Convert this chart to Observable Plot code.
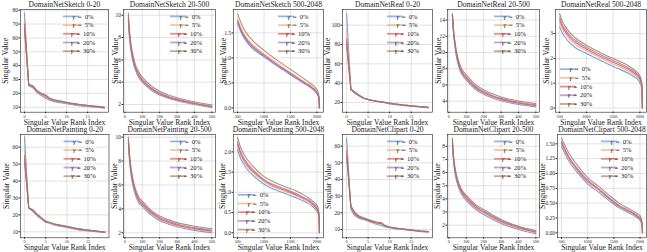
<!DOCTYPE html>
<html><head><meta charset="utf-8">
<script src="https://cdn.jsdelivr.net/npm/d3@7"></script>
<script src="https://cdn.jsdelivr.net/npm/@observablehq/plot@0.6"></script>
<style>
html,body{margin:0;padding:0;background:#fff;}
#root{position:relative;width:647px;height:252px;overflow:hidden;background:#fff;}
#root svg{position:absolute;overflow:visible;}
</style></head><body><div id="root"></div>
<script>
const gammas = ["γ = 0%", "γ = 5%", "γ = 10%", "γ = 20%", "γ = 30%"];
const colors = ["#5b8fd8", "#f5a66e", "#e0524c", "#9a74bd", "#a57a52"];

const titles = ["DomainNetSketch 0-20", "DomainNetSketch 20-500", "DomainNetSketch 500-2048",
  "DomainNetReal 0-20", "DomainNetReal 20-500", "DomainNetReal 500-2048",
  "DomainNetPainting 0-20", "DomainNetPainting 20-500", "DomainNetPainting 500-2048",
  "DomainNetClipart 0-20", "DomainNetClipart 20-500", "DomainNetClipart 500-2048"];

const rank020 = [0,1,2,3,4,5,6,7,8,9,10,11,12,13,14,15,16,17,18,19];
const rank20500 = [20,25,30,40,50,60,80,100,150,200,250,300,400,500];
const rank5002048 = [500,550,600,700,800,1000,1200,1400,1600,1800,1900,1950,2000,2020,2035,2042,2047];

const ticks020 = [0,5,10,15];
const ticks20500 = [0,100,200,300,400,500];
const ticks5002048 = [500,1000,1500,2000];

// ---- DomainNetSketch ----
const sketch020 = [
  [78,25.5,24,20.5,18.5,16.5,15,14,13.5,13,12.5,12,11.5,11,10.8,10.5,10.2,10,9.7,9.3],
  [72,26,24.5,21,19,17.5,15.5,14.5,14,13.5,13,12.5,12,11.5,11.2,10.9,10.6,10.3,10,9.6],
  [70,26,25,21.5,19.5,18,16,15,14.3,13.8,13.2,12.7,12.2,11.8,11.4,11,10.7,10.4,10.1,9.7],
  [67,26.5,25,21.5,19.5,18.5,16,15,14.5,14,13.4,12.9,12.4,12,11.6,11.2,10.9,10.6,10.3,9.9],
  [65,26.5,25.5,22,20,19,16.5,15.5,14.8,14.2,13.6,13,12.6,12.1,11.7,11.3,11,10.7,10.4,10]
];
const sketch20500 = [
  [9.4,8.2,7.4,6.3,5.6,5.1,4.4,4.0,3.3,2.85,2.55,2.33,2.0,1.72],
  [9.6,8.4,7.6,6.45,5.75,5.2,4.5,4.1,3.38,2.92,2.62,2.39,2.05,1.77],
  [9.7,8.5,7.7,6.55,5.85,5.3,4.6,4.15,3.43,2.97,2.66,2.43,2.09,1.8],
  [9.9,8.65,7.85,6.7,5.95,5.4,4.7,4.25,3.5,3.03,2.72,2.48,2.13,1.84],
  [10.2,8.9,8.1,6.95,6.2,5.6,4.9,4.45,3.68,3.18,2.85,2.6,2.24,1.94]
];
const sketch5002048 = [
  [1.69,1.55,1.44,1.28,1.17,1.02,0.87,0.73,0.59,0.46,0.39,0.35,0.28,0.25,0.2,0.13,0],
  [1.78,1.64,1.53,1.36,1.25,1.08,0.93,0.78,0.64,0.5,0.43,0.38,0.31,0.28,0.22,0.14,0],
  [1.74,1.6,1.49,1.33,1.22,1.06,0.9,0.76,0.62,0.48,0.41,0.37,0.3,0.27,0.21,0.14,0],
  [1.72,1.58,1.47,1.31,1.2,1.04,0.89,0.75,0.61,0.47,0.4,0.36,0.29,0.26,0.21,0.13,0],
  [1.88,1.74,1.62,1.45,1.33,1.15,0.99,0.84,0.7,0.55,0.47,0.43,0.36,0.32,0.26,0.17,0]
];
// ---- DomainNetReal ----
const real020 = [
  [112,34,31,27.5,25,23,22,21,20.5,19.5,18.5,18,17.5,17,16.5,16,15.8,15.5,15,14.5],
  [96,34,30,27,24.5,23,22,21,20.5,19.8,19,18.3,17.8,17.2,16.8,16.3,16,15.6,15.2,14.8],
  [86,33.5,30,27,24.5,23,22,21.2,20.7,20,19.2,18.5,18,17.4,17,16.5,16.1,15.7,15.3,14.9],
  [82,33.5,29.5,27,24.5,23.2,22.2,21.4,20.8,20.1,19.3,18.6,18.1,17.5,17.1,16.6,16.2,15.8,15.4,15],
  [78,33,29.5,26.5,24.5,23.3,22.3,21.5,21,20.2,19.4,18.7,18.2,17.6,17.2,16.7,16.3,15.9,15.5,15.1]
];
const real20500 = [
  [14.5,12.8,11.6,9.9,8.8,8.0,7.1,6.6,5.5,4.85,4.4,4.05,3.6,3.3],
  [14.6,12.9,11.8,10.1,9.0,8.2,7.25,6.75,5.65,4.98,4.52,4.17,3.7,3.4],
  [14.7,13.0,11.9,10.2,9.1,8.3,7.35,6.85,5.75,5.07,4.6,4.25,3.77,3.46],
  [14.7,13.1,12.0,10.3,9.25,8.45,7.5,7.0,5.87,5.18,4.7,4.34,3.86,3.55],
  [14.8,13.3,12.2,10.6,9.5,8.7,7.75,7.25,6.1,5.4,4.9,4.52,4.02,3.7]
];
const real5002048 = [
  [3.27,3.02,2.85,2.6,2.42,2.2,1.98,1.77,1.58,1.38,1.25,1.17,1.02,0.92,0.78,0.55,0],
  [3.45,3.18,3.0,2.74,2.55,2.31,2.08,1.87,1.68,1.47,1.34,1.26,1.11,1.01,0.85,0.6,0],
  [3.55,3.28,3.1,2.83,2.64,2.38,2.15,1.94,1.75,1.54,1.4,1.32,1.17,1.06,0.89,0.64,0],
  [3.65,3.37,3.18,2.91,2.72,2.45,2.22,2.01,1.82,1.6,1.46,1.37,1.22,1.11,0.94,0.67,0],
  [3.8,3.5,3.3,3.02,2.82,2.53,2.3,2.09,1.9,1.68,1.53,1.44,1.29,1.18,1.0,0.72,0]
];
// ---- DomainNetPainting ----
const painting020 = [
  [66,24,22,19.5,17.5,15.5,15,14,13.5,13,12.5,12,11.5,11,10.8,10.5,10.2,10,9.7,9.4],
  [58,24,22.5,19.5,17.5,16,15.2,14.3,13.8,13.3,12.8,12.3,11.9,11.5,11.1,10.8,10.5,10.2,9.9,9.6],
  [55,24,22.5,20,18,16,15.3,14.5,14,13.5,13,12.5,12,11.6,11.2,10.9,10.6,10.3,10,9.7],
  [53,24,23,20,18,16.2,15.4,14.6,14.1,13.6,13.1,12.6,12.1,11.7,11.3,11,10.7,10.4,10.1,9.8],
  [51,24,23,20.5,18.2,16.3,15.5,14.7,14.2,13.7,13.2,12.7,12.2,11.8,11.4,11.1,10.8,10.5,10.2,9.9]
];
const painting20500 = [
  [9.5,8.3,7.5,6.4,5.7,5.15,4.5,4.2,3.5,3.0,2.72,2.5,2.2,2.0],
  [9.6,8.45,7.65,6.55,5.85,5.3,4.62,4.3,3.6,3.1,2.8,2.58,2.28,2.08],
  [9.7,8.55,7.75,6.65,5.95,5.4,4.72,4.4,3.68,3.18,2.88,2.65,2.35,2.15],
  [9.8,8.7,7.9,6.8,6.08,5.52,4.85,4.5,3.78,3.28,2.97,2.74,2.43,2.23],
  [10.0,8.9,8.1,7.0,6.25,5.7,5.0,4.65,3.9,3.4,3.1,2.85,2.55,2.35]
];
const painting5002048 = [
  [2.06,1.86,1.73,1.54,1.41,1.2,1.07,0.97,0.87,0.75,0.67,0.61,0.53,0.48,0.41,0.3,0],
  [2.15,1.94,1.8,1.61,1.48,1.26,1.12,1.02,0.92,0.79,0.71,0.65,0.57,0.52,0.44,0.32,0],
  [2.2,1.99,1.85,1.65,1.51,1.29,1.15,1.05,0.94,0.82,0.73,0.67,0.59,0.54,0.46,0.33,0],
  [2.25,2.03,1.89,1.69,1.55,1.32,1.18,1.08,0.97,0.84,0.76,0.7,0.62,0.56,0.48,0.35,0],
  [2.36,2.14,1.99,1.78,1.63,1.39,1.25,1.14,1.04,0.9,0.81,0.75,0.68,0.62,0.53,0.38,0]
];
// ---- DomainNetClipart ----
const clipart020 = [
  [65,22,18,16.5,16,15,14,13,12.5,11.5,11,10.5,10.2,10,9.7,9.4,9.1,8.8,8.5,8.3],
  [60,23,19,17,16.5,15.5,14.5,13.5,13.5,12,11.2,10.8,10.4,10.1,9.8,9.5,9.2,8.9,8.7,8.5],
  [57,23,19,17,16.5,15.5,14.5,14,13.5,12,11.3,10.9,10.5,10.2,9.9,9.6,9.3,9,8.8,8.6],
  [55,24,19.5,17.5,16.5,16,15,14,14,12.2,11.4,11,10.6,10.3,10,9.7,9.4,9.1,8.9,8.7],
  [53,24,20,18,17,16,15,14.5,14,12.3,11.5,11.1,10.7,10.4,10.1,9.8,9.5,9.2,9,8.8]
];
const clipart20500 = [
  [8.1,7.1,6.4,5.6,5.1,4.7,4.2,3.87,3.25,2.81,2.45,2.13,1.67,1.34],
  [8.3,7.28,6.58,5.75,5.23,4.82,4.32,3.98,3.35,2.92,2.55,2.22,1.74,1.41],
  [8.35,7.33,6.63,5.8,5.28,4.88,4.38,4.05,3.42,2.99,2.62,2.28,1.8,1.47],
  [8.45,7.43,6.73,5.9,5.37,4.97,4.47,4.15,3.5,3.08,2.7,2.35,1.86,1.53],
  [8.63,7.6,6.9,6.05,5.5,5.1,4.58,4.28,3.6,3.19,2.8,2.43,1.92,1.6]
];
const clipart5002048 = [
  [1.46,1.36,1.27,1.13,1.02,0.82,0.69,0.55,0.42,0.33,0.28,0.25,0.21,0.18,0.14,0.09,0],
  [1.5,1.39,1.3,1.16,1.05,0.85,0.72,0.58,0.44,0.35,0.3,0.27,0.23,0.2,0.16,0.1,0],
  [1.52,1.42,1.33,1.19,1.07,0.87,0.74,0.59,0.45,0.36,0.31,0.28,0.24,0.21,0.16,0.1,0],
  [1.54,1.44,1.35,1.2,1.09,0.89,0.75,0.6,0.46,0.37,0.32,0.29,0.25,0.22,0.17,0.11,0],
  [1.6,1.5,1.41,1.26,1.14,0.93,0.79,0.64,0.5,0.4,0.35,0.32,0.29,0.25,0.2,0.12,0]
];

// y tick labels per panel
const yTicksList = [
  [10,20,30,40,50,60,70,80], [2,4,6,8,10], [0,0.5,1,1.5],
  [20,40,60,80,100], [4,6,8,10,12,14], [0,1,2,3],
  [10,20,30,40,50,60], [2,4,6,8,10], [0,0.5,1,1.5,2],
  [10,20,30,40,50,60], [2,3,4,5,6,7,8], [0,0.25,0.5,0.75,1,1.25,1.5]
];
const yFormats = ["d","d",".1f","d","d","d","d","d",".1f","d","d",".2f"];

// layout (page pixels) and scale limits
const panels = [
  {series: sketch020, xs: rank020, xt: ticks020, xd: [-0.95,19.95], yd: [6.4,80.5], frame: [20,9.3,108,112], yOff: 15, leg: "tr", curve: "linear"},
  {series: sketch20500, xs: rank20500, xt: ticks20500, xd: [-8,521], yd: [1.31,10.51], frame: [123,9.3,215,112], yOff: 8.5, leg: "tr", curve: "monotone-x"},
  {series: sketch5002048, xs: rank5002048, xt: ticks5002048, xd: [423,2124], yd: [-0.086,1.968], frame: [233,9.3,323,112], yOff: 10.5, leg: "tr", curve: "monotone-x"},
  {series: real020, xs: rank020, xt: ticks020, xd: [-0.95,19.95], yd: [10,116.2], frame: [342,9.3,432,112], yOff: 15, leg: "tr", curve: "linear"},
  {series: real20500, xs: rank20500, xt: ticks20500, xd: [-8,521], yd: [2.64,15.3], frame: [447,9.3,539,112], yOff: 9, leg: "tr", curve: "monotone-x"},
  {series: real5002048, xs: rank5002048, xt: ticks5002048, xd: [423,2124], yd: [-0.17,3.97], frame: [555,9.3,646,112], yOff: 9, leg: "bl", curve: "monotone-x"},
  {series: painting020, xs: rank020, xt: ticks020, xd: [-0.95,19.95], yd: [6.45,67.5], frame: [19.5,134,108,237.3], yOff: 14.5, leg: "tr", curve: "linear"},
  {series: painting20500, xs: rank20500, xt: ticks20500, xd: [-8,521], yd: [1.58,10.22], frame: [123,134,215,237.3], yOff: 9, leg: "tr", curve: "monotone-x"},
  {series: painting5002048, xs: rank5002048, xt: ticks5002048, xd: [423,2124], yd: [-0.123,2.43], frame: [233,134,323,237.3], yOff: 11, leg: "bl", curve: "monotone-x"},
  {series: clipart020, xs: rank020, xt: ticks020, xd: [-0.95,19.95], yd: [5,67], frame: [342,134,432,237.3], yOff: 14.5, leg: "tr", curve: "linear"},
  {series: clipart20500, xs: rank20500, xt: ticks20500, xd: [-8,521], yd: [1.04,8.89], frame: [447,134,539,237.3], yOff: 10, leg: "tr", curve: "monotone-x"},
  {series: clipart5002048, xs: rank5002048, xt: ticks5002048, xd: [423,2124], yd: [-0.084,1.657], frame: [557,134,646,237.3], yOff: 15, leg: "tr", curve: "monotone-x"}
];

const FONT = "'Liberation Serif', 'DejaVu Serif', serif";
const root = document.getElementById("root");

function legendMark(pos) {
  return (index, scales, values, dim) => {
    const g = d3.create("svg:g");
    const fr = dim.width - dim.marginRight, fb = dim.height - dim.marginBottom;
    gammas.forEach((name, k) => {
      let x0, y;
      if (pos === "tr") { x0 = fr - 45; y = dim.marginTop + 7.4 + 8.7 * k; }
      else { x0 = dim.marginLeft + 5; y = fb - 42.5 + 8.7 * k; }
      g.append("line").attr("x1", x0).attr("x2", x0 + 16).attr("y1", y).attr("y2", y)
        .attr("stroke", scales.color(name)).attr("stroke-width", 1.8).attr("stroke-opacity", 0.65);
      const [sym, ...rest] = name.split(" ");
      const t = g.append("text").attr("x", x0 + 20).attr("y", y).attr("dy", "0.32em")
        .attr("font-size", 6.6).attr("word-spacing", "1.3px").attr("fill", "#222");
      t.append("tspan").attr("font-style", "italic").text(sym);
      t.append("tspan").text(" " + rest.join(" "));
    });
    return g.node();
  };
}

panels.forEach((p, i) => {
  const mL = 24, mR = 3, mT = 10, mB = 16;
  const [l, t, r, b] = p.frame;
  const rows = [];
  p.series.forEach((arr, k) => arr.forEach((v, j) => rows.push({x: p.xs[j], y: v, g: gammas[k]})));
  const svg = Plot.plot({
    width: r - l + mL + mR, height: b - t + mT + mB,
    marginLeft: mL, marginRight: mR, marginTop: mT, marginBottom: mB,
    x: {domain: p.xd}, y: {domain: p.yd},
    color: {domain: gammas, range: colors},
    style: {background: "none", fontFamily: FONT, fontSize: "5px", color: "#222", overflow: "visible"},
    marks: [
      Plot.gridX({ticks: p.xt, stroke: "#cfcfcf", strokeOpacity: 1, strokeWidth: 0.6}),
      Plot.gridY({ticks: yTicksList[i], stroke: "#cfcfcf", strokeOpacity: 1, strokeWidth: 0.6}),
      Plot.line(rows, {x: "x", y: "y", z: "g", stroke: "g", strokeWidth: 1.1, strokeOpacity: 0.85, curve: p.curve, clip: true}),
      Plot.frame({stroke: "#222", strokeWidth: 0.6}),
      Plot.axisX({ticks: p.xt, tickSize: 1.5, tickPadding: 1, fontSize: 4.2, label: null, tickFormat: d3.format("d")}),
      Plot.axisY({ticks: yTicksList[i], tickSize: 1.5, tickPadding: 1, fontSize: 5.5, label: null, tickFormat: d3.format(yFormats[i])}),
      Plot.text([titles[i]], {frameAnchor: "top", lineAnchor: "middle", dy: -4.8, fontSize: 7.6}),
      Plot.text(["Singular Value"], {frameAnchor: "left", textAnchor: "middle", lineAnchor: "middle", rotate: -90, dx: -p.yOff, fontSize: 7.8}),
      Plot.text(["Singular Value Rank Index"], {frameAnchor: "bottom", lineAnchor: "middle", dy: 10, fontSize: 7.6}),
      legendMark(p.leg)
    ]
  });
  svg.style.left = (l - mL) + "px";
  svg.style.top = (t - mT) + "px";
  root.appendChild(svg);
});
</script>
</body></html>
